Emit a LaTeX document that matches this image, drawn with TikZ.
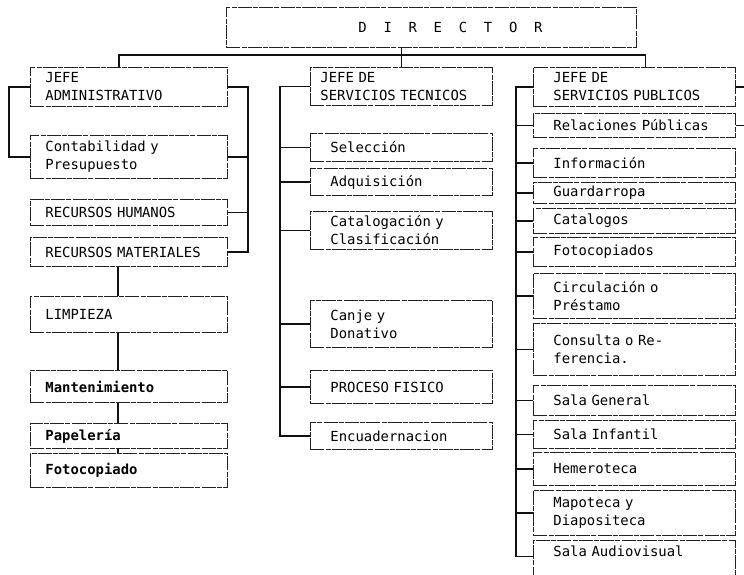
\documentclass[tikz,border=0pt]{standalone}
\usepackage{fontspec}
\newfontfamily\typefont{DejaVu Sans Mono}
\usepackage{xcolor}
\definecolor{boxink}{HTML}{222222}
\definecolor{lineink}{HTML}{111111}

\begin{document}
\begin{tikzpicture}[x=1pt, y=-1pt,
    unit/.style={draw=boxink, line width=0.9pt,
        dash pattern=on 14pt off 1.2pt on 5pt off 1.2pt,
        anchor=north west, align=left, inner ysep=0pt,
        font={\typefont\fontsize{13.9pt}{18pt}\selectfont}},
    colA/.style={unit, inner xsep=15pt, text width=167pt},
    colB/.style={unit, inner xsep=20pt, text width=142pt},
    colC/.style={unit, inner xsep=20pt, text width=162pt},
    link/.style={draw=lineink, line width=1.8pt}]
    \useasboundingbox (0,0) rectangle (744,574);
    \clip (0,0) rectangle (744,574);

    \node[unit, minimum width=410pt, minimum height=40pt] (dir) at (226,7)
          {\hspace*{38pt}D~~I~~R~~E~~C~~T~~O~~R};

    % administracion
    \node[colA, minimum height=39pt] (jadm) at (30,67) {JEFE\\ADMINISTRATIVO};
    \node[colA, minimum height=43pt] (cont) at (30,135) {Contabilidad y\\Presupuesto};
    \node[colA, minimum height=26pt] (rhum) at (30,199) {RECURSOS HUMANOS};
    \node[colA, minimum height=29pt] (rmat) at (30,237) {RECURSOS MATERIALES};
    \node[colA, minimum height=36pt] (limp) at (30,296) {LIMPIEZA};
    \node[colA, minimum height=32pt] (mant) at (30,370) {\bfseries Mantenimiento};
    \node[colA, minimum height=25pt] (pape) at (30,423) {\bfseries Papelería};
    \node[colA, minimum height=34pt] (foto) at (30,453) {\bfseries Fotocopiado};

    % servicios tecnicos
    \node[colB, inner xsep=10pt, text width=162pt, minimum height=38pt] (jtec) at (310,67)
          {JEFE DE\\SERVICIOS TECNICOS};
    \node[colB, minimum height=28pt] (sele) at (310,133) {Selección};
    \node[colB, minimum height=27pt] (adqu) at (310,168) {Adquisición};
    \node[colB, minimum height=38pt] (cata) at (310,211) {Catalogación y\\Clasificación};
    \node[colB, minimum height=47pt] (canj) at (310,300) {Canje y\\Donativo};
    \node[colB, minimum height=33pt] (proc) at (310,370) {PROCESO FISICO};
    \node[colB, minimum height=27pt] (encu) at (310,422) {Encuadernacion};

    % servicios publicos
    \node[colC, minimum height=39pt] (jpub) at (533,67) {JEFE DE\\SERVICIOS PUBLICOS};
    \node[colC, minimum height=24pt] (rela) at (533,113) {Relaciones Públicas};
    \node[colC, minimum height=29pt] (info) at (533,148) {Información};
    \node[colC, minimum height=21pt] (guar) at (533,182) {Guardarropa};
    \node[colC, minimum height=25pt] (catl) at (533,208) {Catalogos};
    \node[colC, minimum height=29pt] (fots) at (533,237) {Fotocopiados};
    \node[colC, minimum height=45pt] (circ) at (533,273) {Circulación o\\Préstamo};
    \node[colC, minimum height=52pt] (cons) at (533,323) {Consulta o Re-\\ferencia.};
    \node[colC, minimum height=30pt] (sgen) at (533,385) {Sala General};
    \node[colC, minimum height=28pt] (sinf) at (533,420) {Sala Infantil};
    \node[colC, minimum height=33pt] (heme) at (533,452) {Hemeroteca};
    \node[colC, minimum height=45pt] (mapo) at (533,490) {Mapoteca y\\Diapositeca};
    \node[colC, inner ysep=6pt, text height=10pt, text depth=40pt] (saud) at (533,540)
          {Sala Audiovisual};

    \coordinate (bus) at (0,55);
    \coordinate (edge) at (750,0);

    % conexiones
    \draw[link] (dir.south -| jtec.north) -- (jtec.north);
    \draw[link] ([xshift=-10pt]jadm.north) -- ([xshift=-10pt]jadm.north |- bus)
        -| ([xshift=11pt]jpub.north);
    \draw[link] (jadm.west) -- ++(-21,0) |- (cont.west);
    \draw[link] (jadm.east) -- ++(20,0) coordinate (ra) |- (rmat.east);
    \foreach \n in {cont, rhum} \draw[link] (\n.east) -- (\n.east -| ra);
    \foreach \s/\t in {rmat/limp, limp/mant, mant/pape, pape/foto}
        \draw[link] ([xshift=-11pt]\s.south) -- ([xshift=-11pt]\t.north);
    \draw[link] (jtec.west) -- ++(-30,0) coordinate (tb) |- (encu.west);
    \foreach \n in {sele, adqu, cata, canj, proc} \draw[link] (\n.west) -- (\n.west -| tb);
    \draw[link] (jpub.west) -- ++(-17,0) coordinate (pb) |- (saud.base west);
    \foreach \n in {rela, info, guar, catl, fots, circ, cons, sgen, sinf, heme, mapo}
        \draw[link] (\n.west) -- (\n.west -| pb);
    \foreach \n in {jpub, rela} \draw[link] (\n.east) -- (\n.east -| edge);
\end{tikzpicture}
\end{document}
